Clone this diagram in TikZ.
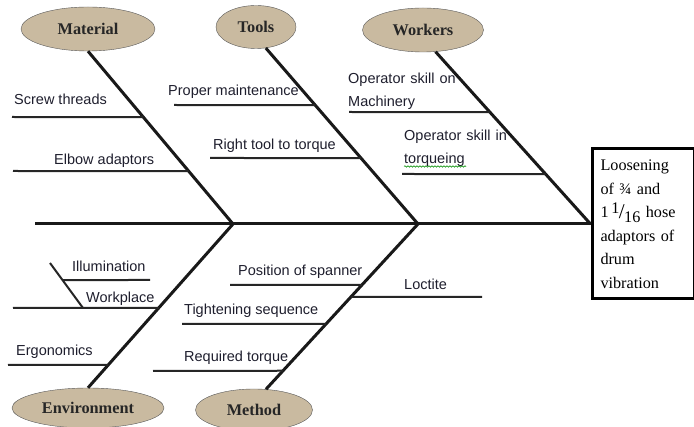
\documentclass[tikz,border=0pt]{standalone}
\usepackage{fontspec}
\setmainfont{Liberation Serif}
\setsansfont{Liberation Sans}
\usetikzlibrary{shapes.geometric,decorations.pathmorphing}
\definecolor{bonetan}{RGB}{201,186,160}
\definecolor{labelink}{RGB}{30,30,45}
\tikzset{
  cause/.style={ellipse,draw=black!65,fill=bonetan,minimum width=#1,minimum height=44pt,inner sep=0pt,
    text=black!85,font=\fontsize{16.3}{18}\selectfont\bfseries},
  bone/.style={line width=3pt,black!90},
  twig/.style={line width=2pt,black!85},
  lbl/.style={anchor=west,inner sep=0pt,text=labelink,font=\sffamily\fontsize{14.5}{23}\selectfont,align=left},
}
\begin{document}
\begin{tikzpicture}[x=1pt,y=-1pt]
  \useasboundingbox (0,0) rectangle (694,427);
  % heads of the bones
  \node[cause=134pt] (material) at (88,29) {Material};
  \node[cause=80pt,minimum height=43pt] (tools) at (256,27) {Tools};
  \node[cause=121pt] (workers) at (423,30) {Workers};
  \node[cause=152pt,minimum height=40pt] (environment) at (88,408) {Environment};
  \node[cause=117pt,minimum height=42pt] (method) at (254,410) {Method};
  % effect
  \node[draw,line width=3pt,anchor=west,minimum width=100pt,minimum height=150pt,text width=85pt,
    inner xsep=8.5pt,align=left,font=\fontsize{16.2}{23.5}\selectfont] (effect) at (590.5,224)
    {Loosening\\of ¾ and\\1\,\smash{\raisebox{4pt}{1}\kern-0.5pt\raisebox{-1pt}{\fontsize{21}{21}\selectfont/}\kern-0.5pt\raisebox{-5pt}{16}} hose\\adaptors of\\drum\\vibration};
  % spine
  \coordinate (tail) at (35,224);
  \coordinate (j1) at (233,224);
  \coordinate (j2) at (418,224);
  \draw[bone] (tail) -- (effect.west);
  % bones
  \draw[bone] (material.south) -- (j1) coordinate[pos=0.382] (mat1) coordinate[pos=0.694] (mat2);
  \draw[bone] (tools.-65) -- (j2) coordinate[pos=0.325] (tool1) coordinate[pos=0.625] (tool2);
  \draw[bone] (workers.-60) -- (effect.west) coordinate[pos=0.351] (work1) coordinate[pos=0.710] (work2);
  \draw[bone] (environment.north) -- (j1) coordinate[pos=0.488] (env1) coordinate[pos=0.140] (env2);
  \draw[bone] (method.60) -- (j2) coordinate[pos=0.631] (meth1) coordinate[pos=0.559] (meth2)
    coordinate[pos=0.396] (meth3) coordinate[pos=0.112] (meth4);
  % Material
  \coordinate (screw) at (12,117);
  \coordinate (elbow) at (13,171);
  \draw[twig] (screw) -- (mat1);
  \draw[twig] (elbow) -- (mat2);
  \node[lbl] (screwlbl) at (14,99) {Screw threads};
  \node[lbl] (elbowlbl) at (54,161) {Elbow adaptors};
  % Tools
  \coordinate (maint) at (174,105);
  \coordinate (righttool) at (210,158);
  \draw[twig] (maint) -- (tool1);
  \draw[twig] (righttool) -- (tool2);
  \node[lbl] (maintlbl) at (168,92) {Proper maintenance};
  \node[lbl] (righttoollbl) at (213,146) {Right tool to torque};
  % Workers
  \coordinate (machine) at (349,112);
  \coordinate (torq) at (402,174);
  \draw[twig] (machine) -- (work1);
  \draw[twig] (torq) -- (work2);
  \node[lbl] (machinelbl) at (348,91.5) {Operator\hspace{1pt} skill\hspace{1pt} on\\Machinery};
  \node[lbl] (torqlbl) at (404,148.5) {Operator\hspace{1pt} skill\hspace{1pt} in\\torqueing};
  \draw[green!55!black,line width=0.6pt,decorate,decoration={snake,amplitude=0.7pt,segment length=3pt}]
    ([yshift=0.5pt]torqlbl.south west) -- ++(62,0);
  % Environment
  \coordinate (workplace) at (13,308);
  \coordinate (ergo) at (8,365);
  \draw[twig] (workplace) -- (env1);
  \draw[twig] (ergo) -- (env2);
  \coordinate (illumtop) at (50,263);
  \coordinate (illumfoot) at (83,308);
  \coordinate (illumend) at (150,280);
  \draw[twig] (illumtop) -- (illumfoot) coordinate[pos=0.378] (illum1);
  \draw[twig] (illum1) -- (illumend);
  \node[lbl] (illumlbl) at (72,266) {Illumination};
  \node[lbl] (workplacelbl) at (86,299) {Workplace};
  \node[lbl] (ergolbl) at (16,352) {Ergonomics};
  % Method
  \coordinate (spanner) at (230,285);
  \coordinate (loctite) at (482,297);
  \coordinate (sequence) at (182,324);
  \coordinate (reqtorque) at (153,371);
  \draw[twig] (spanner) -- (meth1);
  \draw[twig] (meth2) -- (loctite);
  \draw[twig] (sequence) -- (meth3);
  \draw[twig] (reqtorque) -- (meth4);
  \node[lbl] (spannerlbl) at (238,272) {Position of spanner};
  \node[lbl] (loctitelbl) at (404,284) {Loctite};
  \node[lbl] (sequencelbl) at (184,311) {Tightening sequence};
  \node[lbl] (reqtorquelbl) at (184,358) {Required torque};
\end{tikzpicture}
\end{document}
